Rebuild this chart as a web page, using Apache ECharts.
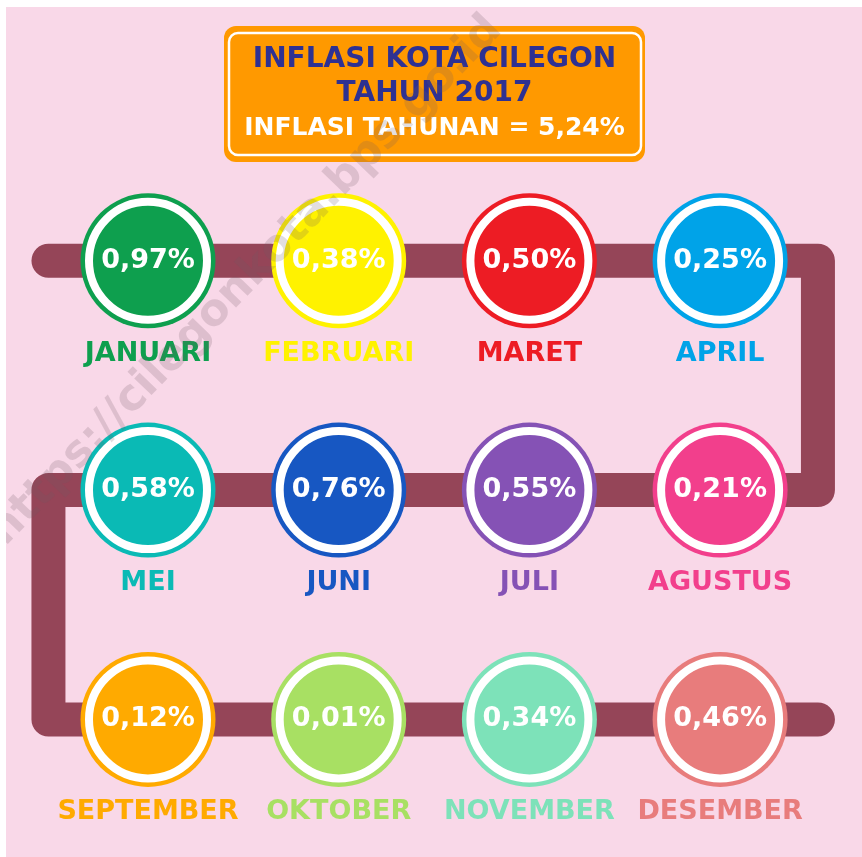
<!DOCTYPE html>
<html>
<head>
<meta charset="utf-8">
<script src="https://cdn.jsdelivr.net/npm/echarts@6/dist/echarts.min.js"></script>
<style>
  html, body { margin: 0; padding: 0; background: #ffffff; }
  #infoChart { position: absolute; left: 6px; top: 7px; width: 856px; height: 850px; }
</style>
</head>
<body>
<div id="infoChart"></div>
<script>
// data
const months = ['JANUARI', 'FEBRUARI', 'MARET', 'APRIL', 'MEI', 'JUNI', 'JULI', 'AGUSTUS',
    'SEPTEMBER', 'OKTOBER', 'NOVEMBER', 'DESEMBER'];
const inflasi = [0.97, 0.38, 0.50, 0.25, 0.58, 0.76, 0.55, 0.21, 0.12, 0.01, 0.34, 0.46];
const monthColors = ['#0E9F4E', '#FFF200', '#ED1C24', '#00A3E8', '#0ABAB5', '#1757C2', '#8552B5', '#F23F8C',
    '#FFAA00', '#A8E063', '#7DE2B9', '#E87C7C'];
const titleLines = ['INFLASI KOTA CILEGON', 'TAHUN 2017', 'INFLASI TAHUNAN = 5,24%'];
// snake path turns (column, row)
const pathTurns = [[-0.522, 0], [3.513, 0], [3.513, 1], [-0.522, 1], [-0.522, 2], [3.513, 2]];

const FONT = 'DejaVu Sans';
const fmt = (v) => v.toFixed(2).replace('.', ',') + '%';

let myChart = echarts.init(document.getElementById('infoChart'));

const points = inflasi.map((v, i) => ({
    value: [i % 4, Math.floor(i / 4)],
    name: months[i],
    itemStyle: { color: monthColors[i], opacity: 1 },
    label: { color: monthColors[i] }
}));

let option = {
    backgroundColor: '#F9D8E8',
    animation: false,
    grid: { left: 8.5, top: 47.45, width: 839.1, height: 803.25 },
    xAxis: { type: 'value', min: -0.7, max: 3.7, show: false },
    yAxis: { type: 'value', min: -0.9, max: 2.6, inverse: true, show: false },
    series: [
        {
            type: 'line',
            silent: true,
            data: pathTurns,
            symbol: 'none',
            z: 1,
            lineStyle: { color: '#954558', width: 34, cap: 'round', join: 'round', opacity: 1 }
        },
        {
            // outer ring + month name
            type: 'scatter',
            silent: true,
            z: 2,
            symbolSize: 135,
            itemStyle: { opacity: 1 },
            data: points,
            label: {
                show: true,
                position: 'inside',
                offset: [0, 93],
                fontFamily: FONT,
                fontWeight: 'bold',
                fontSize: 27,
                formatter: (p) => p.name
            }
        },
        {
            // white ring + value
            type: 'scatter',
            silent: true,
            z: 3,
            symbolSize: 118,
            itemStyle: { opacity: 1 },
            data: points.map((p, i) => ({
                value: p.value,
                itemStyle: { color: monthColors[i], borderColor: '#ffffff', borderWidth: 8, opacity: 1 }
            })),
            label: {
                show: true,
                position: 'inside',
                color: '#ffffff',
                fontFamily: FONT,
                fontWeight: 'bold',
                fontSize: 27,
                formatter: (p) => fmt(inflasi[p.dataIndex])
            }
        }
    ],
    graphic: [
        {
            type: 'rect', z: 10,
            shape: { x: 218, y: 19, width: 421, height: 136, r: 12 },
            style: { fill: '#FF9900' }
        },
        {
            type: 'rect', z: 11,
            shape: { x: 223, y: 26, width: 412, height: 122, r: 9 },
            style: { fill: 'none', stroke: '#ffffff', lineWidth: 2.5 }
        },
        {
            type: 'text', z: 12, x: 428.5, y: 53,
            style: { text: titleLines[0], fill: '#2E3192', font: 'bold 28px "DejaVu Sans"', textAlign: 'center', textVerticalAlign: 'middle' }
        },
        {
            type: 'text', z: 12, x: 428.5, y: 87,
            style: { text: titleLines[1], fill: '#2E3192', font: 'bold 28px "DejaVu Sans"', textAlign: 'center', textVerticalAlign: 'middle' }
        },
        {
            type: 'text', z: 12, x: 428.5, y: 121,
            style: { text: titleLines[2], fill: '#ffffff', font: 'bold 25px "DejaVu Sans"', textAlign: 'center', textVerticalAlign: 'middle' }
        },
        {
            // watermark
            type: 'text', z: 20, x: 240, y: 274, rotation: 46 * Math.PI / 180,
            style: { text: 'https://cilegonkota.bps.go.id', fill: 'rgba(110,90,100,0.2)', font: 'bold 44px "DejaVu Sans"', textAlign: 'center', textVerticalAlign: 'middle' }
        }
    ]
};

myChart.setOption(option);
</script>
</body>
</html>
